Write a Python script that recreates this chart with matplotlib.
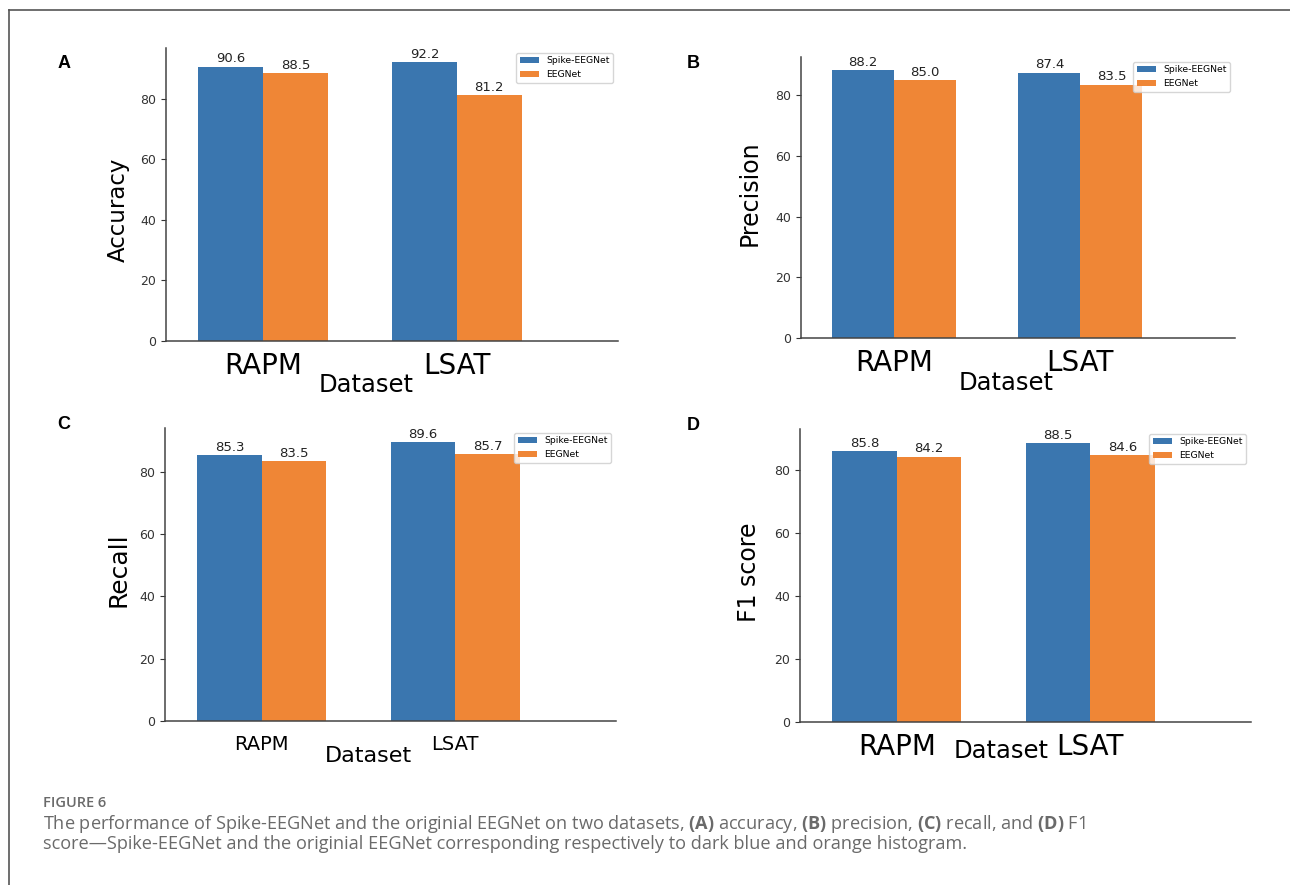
import numpy as np
import matplotlib
matplotlib.use("Agg")
import matplotlib.pyplot as plt
from matplotlib.lines import Line2D

datasets = ["RAPM", "LSAT"]
models = ["Spike-EEGNet", "EEGNet"]
metrics = ["Accuracy", "Precision", "Recall", "F1 score"]
letters = ["A", "B", "C", "D"]

# values (Spike-EEGNet, EEGNet) per dataset
accuracy = [[90.6, 92.2], [88.5, 81.2]]
precision = [[88.2, 87.4], [85.0, 83.5]]
recall = [[85.3, 89.6], [83.5, 85.7]]
f1_score = [[85.8, 88.5], [84.2, 84.6]]
values = [accuracy, precision, recall, f1_score]

colors = ["#3a76af", "#ef8636"]

W, H = 1290, 885

# pixel layout per panel: axes box (l, t, r, b), letter, ylabel centre, xlabel centre, font sizes
layout = [
    dict(box=(166, 48, 618, 341), letter=(64, 63), ylab=(118, 210), xlab=(366, 385), tick=20, xfs=17.5, yfs=16.5, pad=8),
    dict(box=(801, 57, 1235, 338), letter=(693, 63), ylab=(750, 193), xlab=(1006, 383), tick=20, xfs=17.5, yfs=17, pad=8),
    dict(box=(165, 428, 616, 721), letter=(64, 424), ylab=(118, 570), xlab=(368, 756), tick=14, xfs=16, yfs=18, pad=10),
    dict(box=(800, 429, 1251, 722), letter=(693, 425), ylab=(749, 572), xlab=(1001, 751), tick=20, xfs=17.5, yfs=17, pad=8),
]

plt.rcParams["mathtext.fontset"] = "custom"
plt.rcParams["mathtext.rm"] = "Open Sans"
plt.rcParams["mathtext.bf"] = "Open Sans:bold"

fig = plt.figure(figsize=(W / 100, H / 100), dpi=100)

width = 1 / 3
idx = np.arange(len(datasets))

for k in range(4):
    lay = layout[k]
    l, t, r, b = lay["box"]
    ax = fig.add_axes([l / W, 1 - b / H, (r - l) / W, (b - t) / H])
    for j in range(2):
        bars = ax.bar(idx + (j - 0.5) * width, values[k][j], width,
                      color=colors[j], label=models[j])
        ax.bar_label(bars, fmt="%.1f", fontsize=9.5, padding=1, color="#222")
    ax.set_xlim(-0.5, 1.83)
    ax.set_xticks(idx)
    ax.set_xticklabels(datasets, fontsize=lay["tick"])
    ax.tick_params(axis="x", length=0, pad=lay["pad"])
    ax.tick_params(axis="y", labelsize=9, colors="#333", length=3.5)
    for s in ["top", "right"]:
        ax.spines[s].set_visible(False)
    for s in ["left", "bottom"]:
        ax.spines[s].set_color("#444")
        ax.spines[s].set_linewidth(1.1)

    ax.set_xlabel("Dataset", fontsize=lay["xfs"])
    ax.xaxis.label.set_va("center")
    ax.xaxis.set_label_coords((lay["xlab"][0] - l) / (r - l), (b - lay["xlab"][1]) / (b - t))
    ax.set_ylabel(metrics[k], fontsize=lay["yfs"])
    ax.yaxis.label.set_va("center")
    ax.yaxis.set_label_coords((lay["ylab"][0] - l) / (r - l), (b - lay["ylab"][1]) / (b - t))

    ax.legend(loc="upper right", fontsize=6.7, borderaxespad=0.5)

    fig.text(lay["letter"][0] / W, 1 - lay["letter"][1] / H, letters[k],
             fontsize=13, fontweight="bold", family="Liberation Sans",
             ha="center", va="center")

# page frame
fig.add_artist(Line2D([9 / W, 1], [1 - 10 / H, 1 - 10 / H], transform=fig.transFigure, color="#555", lw=1.2))
fig.add_artist(Line2D([9 / W, 9 / W], [0, 1 - 10 / H], transform=fig.transFigure, color="#555", lw=1.2))

# caption
fig.text(43 / W, 1 - 803 / H, "FIGURE 6", family="Open Sans", fontsize=10.5, fontweight="semibold",
         color="#6a6a6a", va="center")
line1 = (r"The performance of Spike-EEGNet and the originial EEGNet on two datasets, "
         r"$\mathbf{(A)}$ accuracy, $\mathbf{(B)}$ precision, $\mathbf{(C)}$ recall, and $\mathbf{(D)}$ F1")
line2 = "score\u2014Spike-EEGNet and the originial EEGNet corresponding respectively to dark blue and orange histogram."
fig.text(43 / W, 1 - 824 / H, line1, family="Open Sans", fontsize=13.1, color="#6a6a6a", va="center")
fig.text(43 / W, 1 - 844 / H, line2, family="Open Sans", fontsize=13.1, color="#6a6a6a", va="center")

fig.savefig("out.png", dpi=100)
